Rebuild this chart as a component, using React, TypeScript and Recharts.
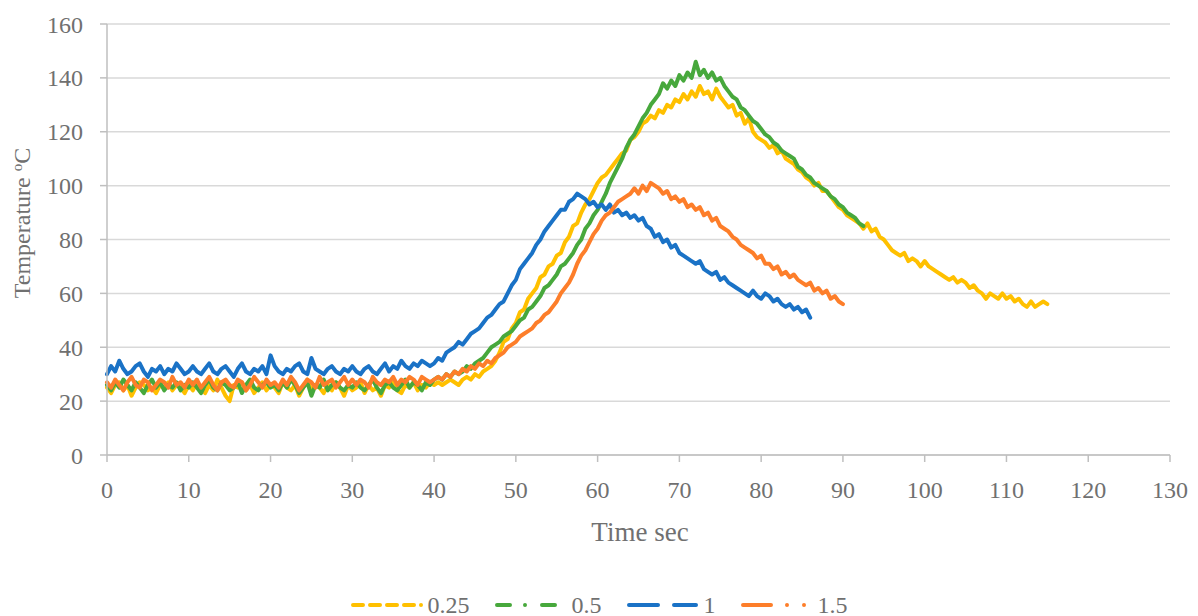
import { LineChart, Line, XAxis, YAxis, CartesianGrid, Legend } from 'recharts';

// sampling step of the logger, seconds
const STEP = 0.5;

const xTicks = [0, 10, 20, 30, 40, 50, 60, 70, 80, 90, 100, 110, 120, 130];
const yTicks = [0, 20, 40, 60, 80, 100, 120, 140, 160];

// 0.25
const series025 = [
    25, 23, 26, 27, 24, 26, 22, 25, 27, 26, 24, 25, 23, 26, 25, 27, 24, 26, 25, 23, 26,
    24, 27, 25, 23, 26, 24, 28, 25, 22, 20, 26, 25, 27, 24, 26, 23, 25, 27, 24, 26,
    25, 23, 27, 25, 24, 26, 22, 25, 28, 24, 26, 25, 23, 26, 24, 27, 25, 22, 26, 24,
    25, 27, 23, 26, 24, 25, 22, 26, 25, 27, 24, 23, 26, 25, 27, 24, 26, 25, 27, 26,
    27, 26, 27, 28, 27, 26, 28, 29, 28, 30, 29, 31, 32, 33,
    35, 38, 42, 43, 47, 49, 53, 54, 58, 60, 62, 66, 67, 70, 71, 74, 75, 79, 81, 85, 86, 90, 93, 95, 98, 101,
    103, 104, 106, 108, 110, 112, 113, 117, 118, 120, 123, 124, 126, 125, 128, 127, 130, 129, 132, 131, 134, 132, 135, 133, 137, 134, 135, 132, 136, 133,
    131, 129, 130, 126, 127, 123, 125, 120, 118, 117, 116, 114, 115, 112, 113, 110, 109, 108, 106, 105, 103, 102, 100, 101, 98, 98, 96, 94, 92, 91,
    89, 88, 87, 86, 84, 86, 83, 84, 81, 80, 78, 76, 75, 74, 75, 72, 73, 72, 70, 72, 70, 69, 68, 67, 66, 65, 66, 64, 65, 64,
    62, 63, 61, 60, 58, 60, 59, 58, 60, 58, 59, 57, 58, 56, 55, 57, 55, 56, 57, 56,
];

// 0.5
const series05 = [
    26, 24, 27, 25, 28, 26, 24, 27, 25, 23, 26, 28, 25, 27, 24, 26, 25, 27, 24, 26, 25,
    27, 25, 23, 26, 28, 25, 24, 27, 26, 24, 25, 27, 23, 26, 28, 25, 24, 26, 27, 25,
    26, 24, 27, 25, 28, 26, 23, 25, 27, 22, 26, 25, 28, 24, 26, 27, 25, 24, 26, 25,
    27, 25, 24, 26, 28, 25, 23, 26, 27, 25, 24, 26, 28, 25, 27, 26, 24, 27, 26, 28,
    29, 28, 30, 29, 31, 30, 31, 33, 32, 34, 35, 36, 38, 40,
    41, 42, 44, 45, 46, 48, 50, 51, 54, 55, 57, 59, 62, 63, 65, 67, 70, 71, 73, 75, 78, 80, 84, 86, 89, 91,
    94, 97, 101, 104, 107, 110, 114, 117, 119, 122, 125, 127, 130, 132, 134, 138, 136, 139, 137, 141, 139, 142, 140, 146, 141, 143, 140, 142, 139, 140,
    137, 135, 133, 132, 129, 128, 126, 124, 123, 121, 119, 118, 116, 115, 113, 112, 111, 110, 107, 106, 104, 103, 101, 100, 99, 98, 96, 95, 93, 92,
    90, 89, 88, 86, 85,
];

// 1
const series1 = [
    30, 33, 31, 35, 32, 30, 31, 33, 34, 31, 29, 32, 31, 33, 30, 32, 31, 34, 32, 30, 31,
    33, 31, 30, 32, 34, 31, 30, 32, 33, 31, 29, 32, 34, 31, 30, 32, 31, 33, 30, 37,
    33, 31, 30, 32, 31, 33, 34, 31, 30, 36, 32, 31, 30, 32, 33, 31, 30, 32, 31, 33,
    31, 30, 32, 33, 31, 30, 32, 34, 31, 33, 32, 35, 33, 32, 34, 33, 35, 34, 33, 34,
    36, 35, 38, 39, 40, 42, 41, 43, 45, 46, 47, 49, 51, 52, 54, 56, 57, 60, 63, 65, 69, 71, 73, 75, 78, 80, 83, 85, 87, 89, 91, 91, 94, 95, 97, 96,
    95, 93, 94, 92, 93, 91, 93, 90, 91, 89, 90, 88, 89, 87, 88, 85, 84, 81, 82, 79, 80, 77, 78, 75, 74, 73, 72, 71, 72, 69, 68, 67, 68, 65, 66, 64, 63, 62, 61, 60,
    59, 61, 59, 58, 60, 59, 57, 58, 56, 55, 56, 54, 55, 53, 54, 51,
];

// 1.5
const series15 = [
    27, 25, 28, 26, 24, 27, 29, 26, 25, 28, 27, 24, 26, 28, 27, 25, 29, 26, 27, 25, 28,
    26, 28, 25, 27, 29, 26, 24, 27, 28, 26, 25, 28, 27, 24, 26, 29, 27, 25, 28, 26,
    27, 25, 28, 26, 29, 27, 24, 26, 28, 27, 25, 29, 26, 27, 28, 25, 27, 29, 26, 28,
    26, 28, 27, 25, 29, 27, 26, 28, 27, 29, 26, 28, 27, 29, 28, 26, 29, 28, 27, 28,
    29, 28, 30, 29, 31, 30, 32, 31, 33, 32, 34, 33, 35, 34, 36, 37,
    38, 40, 41, 42, 44, 45, 46, 47, 49, 50, 52, 53, 55, 57, 60, 62, 64, 67, 71, 74, 76, 79, 82, 84, 87, 89, 90, 92, 94, 95, 96, 97, 99, 97, 100, 98, 101, 100,
    99, 97, 98, 95, 96, 94, 95, 92, 93, 91, 92, 89, 90, 87, 88, 85, 84, 83, 81, 80, 78, 77, 76, 75, 73, 74, 71, 71, 69, 70, 67, 68, 66, 67, 65, 64, 63, 64, 61, 62, 60, 61, 58, 59, 57, 56,
];

const toPoints = (vals: number[]) => vals.map((v, i) => ({ t: i * STEP, v }));

const SERIES = [
    { name: '0.25', color: '#FFC000', data: toPoints(series025), dash: '10 7 10 7 10 7 10 7 0 20' },
    { name: '0.5', color: '#47A83C', data: toPoints(series05), dash: '13 15 0 17 13 20' },
    { name: '1', color: '#1A72C6', data: toPoints(series1), dash: '29 16 22 20' },
    { name: '1.5', color: '#FD7E2A', data: toPoints(series15), dash: '28 16 0 17 0 20' },
];

const FONT = '"Liberation Serif", "DejaVu Serif", serif';
const TEXT = '#707070';
const AXIS = '#bfbfbf';

const YLabel = () => (
    <text x={30} y={223} transform="rotate(-90 30 223)" textAnchor="middle" fill={TEXT} fontFamily={FONT} fontSize={24}>
        Temperature <tspan dy={-8} fontSize={15}>o</tspan><tspan dy={8}>C</tspan>
    </text>
);

const XLabel = () => (
    <text x={640} y={541} textAnchor="middle" fill={TEXT} fontFamily={FONT} fontSize={27}>
        Time sec
    </text>
);

const LegendContent = () => (
    <div style={{ height: 28, position: 'relative' }}>
        <div style={{ position: 'absolute', top: 5, left: 28, right: 0, display: 'flex', justifyContent: 'center', alignItems: 'center', gap: 25, fontFamily: FONT, fontSize: 24, color: TEXT }}>
            {SERIES.map(s => (
                <div key={s.name} style={{ display: 'flex', alignItems: 'center' }}>
                    <svg width={72} height={10}>
                        <line x1={2} y1={5} x2={72} y2={5} stroke={s.color} strokeWidth={4} strokeLinecap="round" strokeDasharray={s.dash} />
                    </svg>
                    <span style={{ marginLeft: 5, lineHeight: '24px' }}>{s.name}</span>
                </div>
            ))}
        </div>
    </div>
);

export default function App() {
    return (
        <div style={{ position: 'absolute', left: 0, top: 0, width: 1198, height: 616, background: '#fff' }}>
            <LineChart width={1198} height={616} margin={{ top: 24, right: 28, left: 0, bottom: 0 }}>
                <CartesianGrid horizontal={true} vertical={false} stroke="#d9d9d9" strokeWidth={1.5} />
                <XAxis
                    type="number"
                    dataKey="t"
                    domain={[0, 130]}
                    ticks={xTicks}
                    interval={0}
                    height={133}
                    tickSize={7}
                    tickMargin={19}
                    stroke={AXIS}
                    strokeWidth={1.5}
                    tick={{ fill: TEXT, fontFamily: FONT, fontSize: 24 }}
                    label={XLabel}
                />
                <YAxis
                    type="number"
                    domain={[0, 160]}
                    ticks={yTicks}
                    interval={0}
                    width={107}
                    tickSize={7}
                    tickMargin={17}
                    stroke={AXIS}
                    strokeWidth={1.5}
                    tick={{ fill: TEXT, fontFamily: FONT, fontSize: 24 }}
                    label={YLabel}
                />
                <Legend verticalAlign="bottom" height={28} content={LegendContent} />
                {SERIES.map(s => (
                    <Line
                        key={s.name}
                        name={s.name}
                        data={s.data}
                        dataKey="v"
                        type="linear"
                        stroke={s.color}
                        strokeWidth={4}
                        strokeLinejoin="round"
                        strokeLinecap="round"
                        dot={false}
                        isAnimationActive={false}
                    />
                ))}
            </LineChart>
        </div>
    );
}
